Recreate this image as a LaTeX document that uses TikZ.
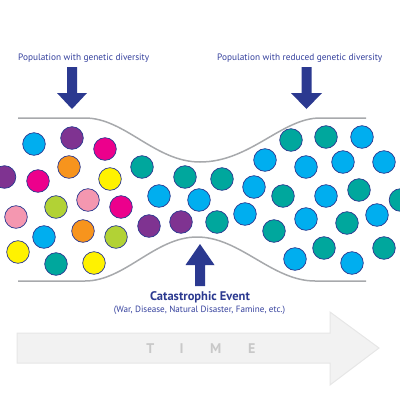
\documentclass[tikz,border=0pt]{standalone}
\usepackage{fontspec}
\setmainfont{PT Sans}
\definecolor{navy}{HTML}{2B3990}
\definecolor{txtblue}{HTML}{333F9C}
\definecolor{cblue}{HTML}{00AEEF}
\definecolor{cpurple}{HTML}{7F3391}
\definecolor{cmagenta}{HTML}{EC008C}
\definecolor{corange}{HTML}{F7941D}
\definecolor{cyellow}{HTML}{FFF200}
\definecolor{cteal}{HTML}{00A79D}
\definecolor{cpink}{HTML}{F497B0}
\definecolor{cgreen}{HTML}{B2D235}
\definecolor{tubegray}{HTML}{A7A9AC}
\definecolor{timefill}{HTML}{F2F2F2}
\definecolor{timeedge}{HTML}{E6E6E6}
\definecolor{timetext}{HTML}{C8C8C8}
\begin{document}
\begin{tikzpicture}[x=1pt,y=-1pt,
  cell/.style={circle,draw=navy,line width=0.7pt,minimum size=22.6pt,inner sep=0pt,fill=#1},
  tube/.style={draw=tubegray,line width=1.5pt},
  blockarrow/.style={fill=navy,draw=none},
  label/.style={text=txtblue,inner sep=0pt,font=\fontsize{9.3}{10}\selectfont},
  timeletter/.style={text=timetext,inner sep=0pt,font=\fontsize{14}{14}\selectfont\bfseries}]
\useasboundingbox (0,0) rectangle (400,400);
% time arrow
\draw[fill=timefill,draw=timeedge,line width=1pt]
  (17,333) -- (330,333) -- (330,312) -- (379,348) -- (330,385) -- (330,363) -- (17,363) -- cycle;
\node[timeletter] (tT) at (150.3,349) {T};
\node[timeletter] (tI) at (181.7,349) {I};
\node[timeletter] (tM) at (215.7,349) {M};
\node[timeletter] (tE) at (251.7,349) {E};
% tube
\draw[tube] (18,118) -- (85,118) .. controls (125,118) and (155,162) .. (200,162)
  .. controls (250,162) and (282,118) .. (320,118) -- (366,118);
\draw[tube] (18,281) -- (85,281) .. controls (125,281) and (155,237) .. (197,237)
  .. controls (240,237) and (272,281) .. (315,281) -- (366,281);
% circles
\foreach \x/\y/\c [count=\i] in {
 34/144/cblue, 72/138/cpurple, 105/149/cmagenta, 4.5/177/cpurple, 38/181/cmagenta,
 69/167/corange, 110/179/cyellow, 142/167/cteal, 185/177/cteal, 159/196/cblue,
 199/200/cblue, 16/217/cpink, 56/207/cgreen, 88/200/cpink, 121/207/cmagenta,
 149/226/cpurple, 181/222/cpurple, 44/237/cblue, 83/231/corange, 116/237/cgreen,
 18/252/cyellow, 56/264/cteal, 94/263/cyellow,
 291/140/cteal, 326/137/cteal, 362/137/cblue, 265/160/cblue, 306/167/cblue,
 343/162/cblue, 384/162/cblue, 222/179/cteal, 254/187/cblue, 283/196/cteal,
 326/196/cblue, 359/190/cteal, 400.5/200/cteal, 217/222/cteal, 245/214/cblue,
 306/219/cblue, 274/231/cteal, 347/223/cteal, 377/215/cblue, 295/259/cblue,
 324/248/cteal, 352/263/cblue, 384/248/cteal}
 \node[cell=\c] (c\i) at (\x,\y) {};
% block arrows
\fill[blockarrow] (67,67) -- (77,67) -- (77,93) -- (87,93) -- (72,109) -- (57,93) -- (67,93) -- cycle;
\fill[blockarrow] (301.5,67) -- (311.5,67) -- (311.5,93) -- (322,93) -- (306.5,109) -- (291,93) -- (301.5,93) -- cycle;
\fill[blockarrow] (195,286) -- (205,286) -- (205,265) -- (214.5,265) -- (200,244) -- (185.5,265) -- (195,265) -- cycle;
% labels
\node[label,anchor=west] (l1) at (18,58) {Population with genetic diversity};
\node[label,anchor=west] (l2) at (217,58) {Population with reduced genetic diversity};
\node[text=navy,inner sep=0pt,font=\fontsize{12.5}{13}\selectfont\bfseries] (cat) at (200,297.5) {Catastrophic Event};
\node[label,font=\fontsize{9.1}{10}\selectfont] (sub) at (199.5,310) {(War, Disease, Natural Disaster, Famine, etc.)};
\end{tikzpicture}
\end{document}
